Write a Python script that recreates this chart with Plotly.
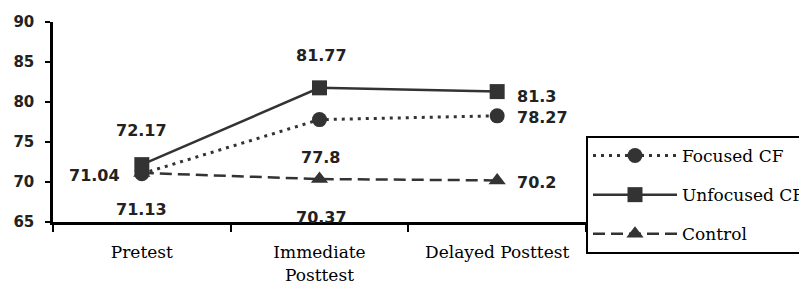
import plotly.graph_objects as go

categories = ["Pretest", "Immediate<br>Posttest", "Delayed Posttest"]
focused = [71.04, 77.8, 78.27]
unfocused = [72.17, 81.77, 81.3]
control = [71.13, 70.37, 70.2]
y_ticks = [65, 70, 75, 80, 85, 90]

# label placement per point: (xanchor, xshift, yshift)
focused_lbl = [("right", -20, -2), ("center", 1, -38), ("left", 18, -2)]
unfocused_lbl = [("center", 0, 34), ("center", 2, 32), ("left", 18, -5)]
control_lbl = [("center", 0, -37), ("center", 2, -38), ("left", 18, -2)]

C = "#333333"
fig = go.Figure()
fig.add_trace(go.Scatter(x=categories, y=focused, name="Focused CF", mode="lines+markers",
                         line=dict(color=C, width=3, dash="3px,5px"),
                         marker=dict(symbol="circle", size=15, color=C),
                         legendgroup="a", legendrank=1))
fig.add_trace(go.Scatter(x=categories, y=control, name="Control", mode="lines+markers",
                         line=dict(color=C, width=2.5, dash="12px,6px"),
                         marker=dict(symbol="triangle-up", size=15, color=C),
                         legendgroup="c", legendrank=3))
fig.add_trace(go.Scatter(x=categories, y=unfocused, name="Unfocused CF", mode="lines+markers",
                         line=dict(color=C, width=2.5),
                         marker=dict(symbol="square", size=15, color=C),
                         legendgroup="b", legendrank=2))

annos = []
for vals, lbls in ((focused, focused_lbl), (unfocused, unfocused_lbl), (control, control_lbl)):
    for c, v, (xa, xs, ys) in zip(categories, vals, lbls):
        annos.append(dict(x=c, y=v, xref="x", yref="y", text=f"{v:g}", showarrow=False,
                          xanchor=xa, yanchor="middle", xshift=xs, yshift=ys,
                          font=dict(family="DejaVu Sans", size=16, color="#222222", weight="bold")))

n = len(categories)
fig.update_layout(
    width=799, height=282,
    margin=dict(l=45, r=221, t=14, b=68, autoexpand=False),
    paper_bgcolor="white", plot_bgcolor="white",
    annotations=annos,
    showlegend=True,
    legend=dict(x=1.0, xanchor="left", y=0.43, yanchor="top",
                bordercolor="black", borderwidth=2, bgcolor="white",
                font=dict(family="DejaVu Serif", size=17, color="black"),
                itemwidth=84, traceorder="grouped", tracegroupgap=14),
    xaxis=dict(type="category", range=[-0.5, n - 0.5], showline=True, linecolor="black",
               linewidth=3, ticks="outside", ticklen=7, tickwidth=2, tickcolor="black",
               tickson="boundaries", showgrid=False, zeroline=False,
               tickfont=dict(family="DejaVu Serif", size=17, color="black"),
               ticklabelstandoff=13),
    xaxis2=dict(overlaying="x", anchor="y", range=[-0.5, n - 0.5],
                tickvals=[i + 0.5 for i in range(n)], ticks="inside", ticklen=7, tickwidth=2,
                tickcolor="black", showticklabels=False, showline=False, showgrid=False,
                zeroline=False),
    yaxis=dict(range=[65, 90], tickvals=y_ticks, showline=True, linecolor="black", linewidth=2.5,
               ticks="outside", ticklen=5, tickwidth=2, tickcolor="black",
               showgrid=False, zeroline=False,
               tickfont=dict(family="DejaVu Sans", size=15, color="#222222", weight="bold"),
               ticklabelstandoff=8),
)
fig.write_html("out.html")
